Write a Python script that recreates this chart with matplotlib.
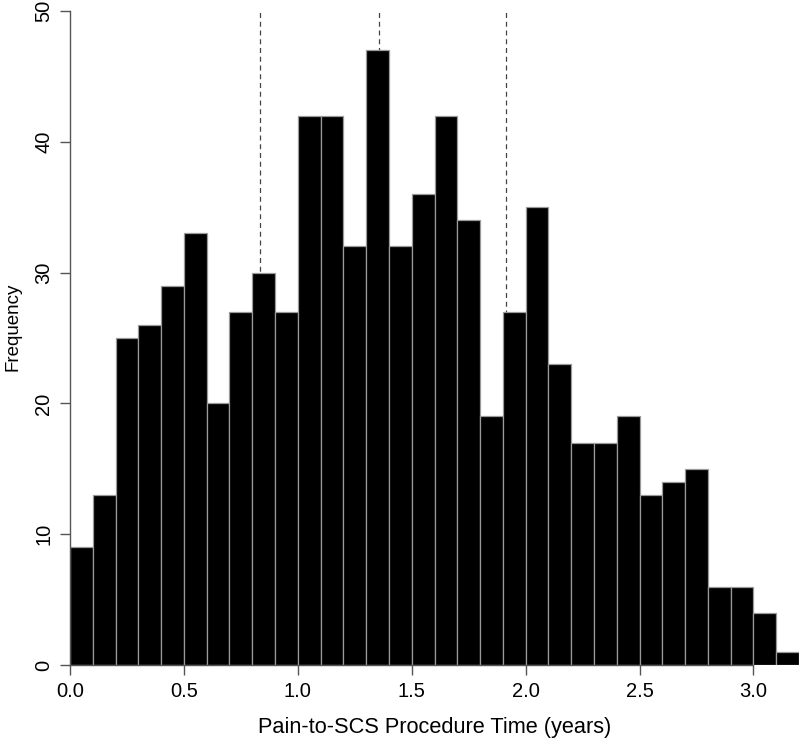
import numpy as np
import matplotlib.pyplot as plt

plt.rcParams['font.family'] = ['Liberation Sans', 'DejaVu Sans']

# ── Histogram data (bin width 0.1 years) ─────────────────────────────────────
bin_edges = np.round(np.arange(0, 3.21, 0.1), 2)
counts = [9, 13, 25, 26, 29, 33, 20, 27, 30, 27,
          42, 42, 32, 47, 32, 36, 42, 34, 19, 27,
          35, 23, 17, 17, 19, 13, 14, 15, 6, 6,
          4, 1]
quartiles = [0.835, 1.355, 1.912]   # dashed reference lines
x_ticks = [0.0, 0.5, 1.0, 1.5, 2.0, 2.5, 3.0]
y_ticks = [0, 10, 20, 30, 40, 50]

fig = plt.figure(figsize=(8, 7.38), dpi=100)
ax = fig.add_axes([70 / 800, 73 / 738, 729 / 800, 654 / 738])

for q in quartiles:
    ax.axvline(q, color='#444444', lw=0.9, ls=(0, (4, 3)), zorder=1)

ax.bar(bin_edges[:-1], counts, width=0.1, align='edge',
       color='black', edgecolor='#9a9a9a', linewidth=0.9, zorder=2)

ax.set_xlim(0, 3.2)
ax.set_ylim(0, 50)
ax.set_xticks(x_ticks)
ax.set_xticklabels([f"{t:.1f}" for t in x_ticks])
ax.set_yticks(y_ticks)
ax.set_yticklabels([str(t) for t in y_ticks], rotation=90, va='center')

for side in ['top', 'right']:
    ax.spines[side].set_visible(False)
ax.spines['bottom'].set_bounds(0, 3.0)
ax.spines['left'].set_bounds(0, 50)
for side in ['bottom', 'left']:
    ax.spines[side].set_color('#555555')
    ax.spines[side].set_linewidth(1)
    ax.spines[side].set_zorder(3)

ax.tick_params(axis='both', direction='out', length=7, width=1,
               color='#555555', labelsize=14.5, pad=5)

ax.set_xlabel("Pain-to-SCS Procedure Time (years)", fontsize=15.7, labelpad=12)
ax.set_ylabel("Frequency", fontsize=13.5)
ax.yaxis.set_label_coords(-0.066, 0.517)

fig.savefig("out.png", dpi=100)
